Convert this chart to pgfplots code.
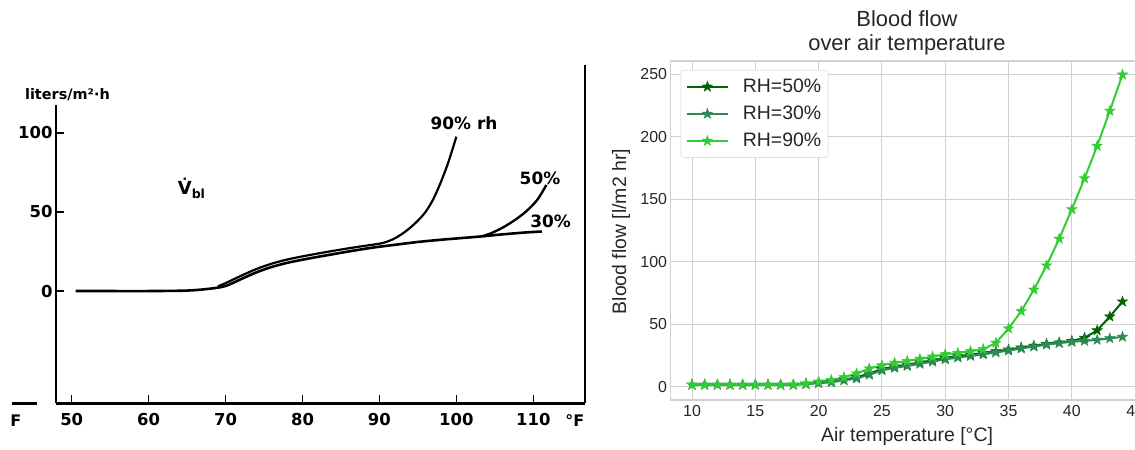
\documentclass[border=0pt]{standalone}
\usepackage{fontspec}
\setmainfont{Liberation Sans}
\newfontfamily\scanfont{DejaVu Sans}
\usepackage{pgfplots}
\pgfplotsset{compat=1.18}

\definecolor{rhfifty}{HTML}{006400}
\definecolor{rhthirty}{HTML}{2E8B57}
\definecolor{rhninety}{HTML}{32CD32}
\definecolor{gridc}{HTML}{D0D0D0}
\definecolor{txt}{HTML}{262626}

\pgfdeclareplotmark{fstar}{%
 \pgfpathmoveto{\pgfpointpolar{90}{\pgfplotmarksize}}%
 \pgfpathlineto{\pgfpointpolar{126}{0.4\pgfplotmarksize}}%
 \pgfpathlineto{\pgfpointpolar{162}{\pgfplotmarksize}}%
 \pgfpathlineto{\pgfpointpolar{198}{0.4\pgfplotmarksize}}%
 \pgfpathlineto{\pgfpointpolar{234}{\pgfplotmarksize}}%
 \pgfpathlineto{\pgfpointpolar{270}{0.4\pgfplotmarksize}}%
 \pgfpathlineto{\pgfpointpolar{306}{\pgfplotmarksize}}%
 \pgfpathlineto{\pgfpointpolar{342}{0.4\pgfplotmarksize}}%
 \pgfpathlineto{\pgfpointpolar{18}{\pgfplotmarksize}}%
 \pgfpathlineto{\pgfpointpolar{54}{0.4\pgfplotmarksize}}%
 \pgfpathclose
 \pgfusepathqfillstroke}

\pgfplotstableread{
x   r50   r30   r90
10  1.5   1.5   1.5
11  1.5   1.5   1.5
12  1.5   1.5   1.5
13  1.5   1.5   1.5
14  1.5   1.5   1.5
15  1.5   1.5   1.5
16  1.5   1.5   1.5
17  1.5   1.5   1.5
18  1.5   1.5   1.6
19  2.2   2.0   2.5
20  3.0   2.8   4.0
21  4.0   3.5   5.3
22  5.5   5.0   7.5
23  7.5   6.5   10.5
24  10.5  9.5   14.5
25  14.0  13.0  17.0
26  16.0  15.0  19.0
27  17.5  16.5  20.5
28  19.3  18.2  22.2
29  21.0  20.0  24.0
30  22.8  21.8  25.9
31  24.3  23.3  26.9
32  25.5  24.5  28.3
33  26.8  25.8  30.0
34  28.2  27.3  35.0
35  29.6  28.8  46.5
36  31.2  30.5  60.3
37  32.7  32.0  77.5
38  34.2  33.6  96.8
39  35.3  34.8  118.2
40  36.5  35.8  141.8
41  39.0  36.6  166.5
42  45.0  37.4  192.5
43  56.0  38.6  220.5
44  68.0  39.8  249.5
}\bloodflow

\begin{document}
\begin{tikzpicture}
\useasboundingbox (0,0) rectangle (1135bp,-450bp);

% ---------------- left: scanned chart ----------------
\begin{axis}[
  at={(56bp,-403.3bp)}, anchor=south west,
  scale only axis, width=529bp, height=298.3bp,
  xmin=47.96, xmax=116.72, ymin=-70.9, ymax=117.5,
  axis lines*=left,
  axis line style={line width=2.6bp, black},
  xtick={50,60,...,110},
  ytick={0,50,100},
  tick align=inside, major tick length=8bp,
  tick style={line width=1.6bp, black},
  tick label style={font=\scanfont\bfseries\fontsize{16.5}{16.5}\selectfont},
  xticklabel style={yshift=-6bp},
  /pgf/number format/assume math mode=true,
  clip=false,
]
\addplot[black, line width=2.6bp, smooth] coordinates {
 (50.5,0) (55,0) (60,0) (65,0.3) (68,1.5) (70,3.2) (72,7.5) (74,11.8)
 (76,15.2) (78,17.8) (80,19.8) (82,21.6) (84,23.3) (86,25) (88,26.6)
 (90,28) (92,29.2) (95,31) (98,32.4) (100,33.2) (103,34.4) (106,35.8)
 (109,37) (111.1,37.6)};
\addplot[black, line width=2.2bp, smooth] coordinates {
 (69,3.0) (70,5.0) (72,9.6) (74,13.9) (76,17.3) (78,19.9) (80,21.9)
 (82,23.7) (84,25.4) (86,27.0) (88,28.5) (90,29.9) (91,31.2) (92,33.3)
 (93,36.3) (94,40) (95,44.5) (96,50) (97,58) (98,69) (99,82) (100,97.5)};
\addplot[black, line width=2.4bp, smooth] coordinates {
 (103.3,34.5) (104.5,36.5) (106,40) (107.5,44.5) (109,50) (110.5,57.5) (111.7,67)};
\draw[line width=2.2bp] (axis cs:116.72,-70.9) -- (axis cs:116.72,142.8);
\draw[line width=2.6bp] (axis cs:42.24,-70.9) -- (axis cs:45.49,-70.9);
\node[font=\scanfont\bfseries\fontsize{16}{16}\selectfont, anchor=east]
  at (axis cs:43.9,-81.6) {F};
\node[font=\scanfont\bfseries\fontsize{16}{16}\selectfont]
  at (axis cs:115.4,-81.6) {°F};
\node[font=\scanfont\bfseries\fontsize{14.5}{14.5}\selectfont]
  at (axis cs:49.45,123.8) {liters/m²·h};
\node[font=\scanfont\bfseries\fontsize{18}{18}\selectfont]
  at (axis cs:65.6,65) {\.V\textsubscript{bl}};
\node[font=\scanfont\bfseries\fontsize{17}{17}\selectfont]
  at (axis cs:101.0,105.9) {90\% rh};
\node[font=\scanfont\bfseries\fontsize{17}{17}\selectfont]
  at (axis cs:110.87,71.2) {50\%};
\node[font=\scanfont\bfseries\fontsize{17}{17}\selectfont]
  at (axis cs:112.24,43.8) {30\%};
\end{axis}

% ---------------- right: matplotlib chart ----------------
\begin{axis}[
  at={(670.5bp,-400bp)}, anchor=south west,
  scale only axis, width=473.5bp, height=339bp,
  xmin=8.3, xmax=45.7, ymin=-10.7, ymax=260.4,
  xtick={10,15,...,45}, ytick={0,50,...,250},
  grid=major, major grid style={gridc, line width=1bp},
  axis line style={gridc, line width=1.2bp},
  major tick length=0pt,
  tick label style={font=\fontsize{16}{16}\selectfont, text=txt},
  xticklabel style={yshift=-2bp},
  /pgf/number format/assume math mode=true,
  xlabel={Air temperature [°C]},
  ylabel={Blood flow [l/m2 hr]},
  label style={font=\fontsize{19.5}{20}\selectfont, text=txt},
  xlabel style={at={(axis description cs:0.4995,-0.1077)}, anchor=center},
  ylabel style={at={(axis description cs:-0.1045,0.4967)}, anchor=center},
  title={Blood flow\\over air temperature},
  title style={align=center, font=\fontsize{22}{24}\selectfont, text=txt,
    at={(axis description cs:0.4995,1.065)}, anchor=center},
  legend style={at={(axis description cs:0.0215,0.9735)}, anchor=north west,
    draw=gridc, rounded corners=3bp, fill=white,
    font=\fontsize{19.5}{20}\selectfont, text=txt,
    inner xsep=5bp, inner ysep=7bp, row sep=8bp,
    nodes={inner sep=2bp}},
  legend cell align=left,
  legend image code/.code={
    \draw[mark repeat=2,mark phase=2,#1] plot coordinates {(0bp,0bp) (20.5bp,0bp) (41bp,0bp)};
    \path (0bp,0bp) (53bp,0bp);},
  mark size=5.3bp,
]
\addplot[rhfifty, line width=2bp, mark=fstar, mark options={line width=0.6bp}]
  table[x=x, y=r50] {\bloodflow};
\addlegendentry{RH=50\%}
\addplot[rhthirty, line width=2bp, mark=fstar, mark options={line width=0.6bp}]
  table[x=x, y=r30] {\bloodflow};
\addlegendentry{RH=30\%}
\addplot[rhninety, line width=2bp, mark=fstar, mark options={line width=0.6bp}]
  table[x=x, y=r90] {\bloodflow};
\addlegendentry{RH=90\%}
\end{axis}
\end{tikzpicture}
\end{document}
